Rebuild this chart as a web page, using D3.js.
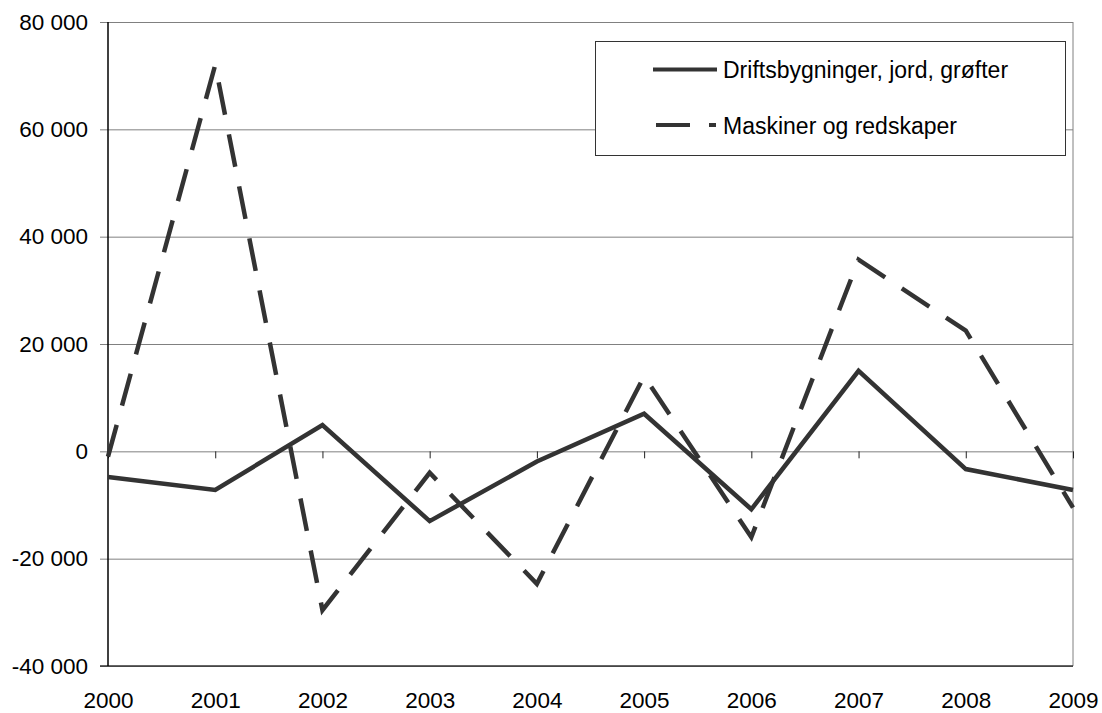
<!DOCTYPE html>
<html>
<head>
<meta charset="utf-8">
<script src="https://cdn.jsdelivr.net/npm/d3@7"></script>
<style>
  body { margin: 0; background: #fff; }
  svg { font-family: "Liberation Sans", Arial, sans-serif; }
  .grid line { stroke: #808080; stroke-width: 1; }
  .grid path { display: none; }
</style>
</head>
<body>
<svg width="1102" height="713"></svg>
<script>
// data
const years = ["2000", "2001", "2002", "2003", "2004", "2005", "2006", "2007", "2008", "2009"];
const drift = [-4800, -7200, 4900, -13000, -1900, 7000, -10800, 15000, -3300, -7200];
const maskiner = [-1000, 72000, -29600, -4000, -24700, 14000, -16000, 35700, 22500, -10500];
const yTicks = [-40000, -20000, 0, 20000, 40000, 60000, 80000];
const seriesNames = ["Driftsbygninger, jord, grøfter", "Maskiner og redskaper"];

const plotLeft = 108, plotRight = 1073, plotTop = 22, plotBottom = 666;
const lineColor = "#333333";

const svg = d3.select("svg");

const x = d3.scalePoint().domain(years).range([plotLeft, plotRight]);
const y = d3.scaleLinear().domain([-40000, 80000]).range([plotBottom, plotTop]);

const locale = d3.formatLocale({ decimal: ",", thousands: " ", grouping: [3], currency: ["", ""], minus: "-" });
const fmt = locale.format(",d");

// Grid lines - horizontal
svg.append("g")
  .attr("class", "grid")
  .attr("transform", `translate(${plotLeft}, 0)`)
  .call(d3.axisLeft(y).tickValues(yTicks).tickSize(-(plotRight - plotLeft)).tickFormat(""));

// y ticks + labels
const yAxis = svg.append("g")
  .attr("transform", `translate(${plotLeft}, 0)`)
  .call(d3.axisLeft(y).tickValues(yTicks).tickSize(8).tickPadding(12).tickFormat(fmt));
yAxis.select(".domain").remove();
yAxis.selectAll("line").attr("stroke", "#808080");
yAxis.selectAll("text")
  .attr("font-size", 22.5)
  .attr("font-family", "Liberation Sans, Arial, sans-serif")
  .attr("fill", "#000");

// right border
svg.append("line")
  .attr("x1", plotRight).attr("x2", plotRight)
  .attr("y1", plotTop).attr("y2", plotBottom)
  .attr("stroke", "#808080");

// bottom frame line
svg.append("line")
  .attr("x1", plotLeft - 8).attr("x2", plotRight)
  .attr("y1", y(-40000)).attr("y2", y(-40000))
  .attr("stroke", "#333").attr("stroke-width", 1.5);

// zero axis with ticks down
const zeroAxis = svg.append("g")
  .attr("transform", `translate(0, ${y(0)})`)
  .call(d3.axisBottom(x).tickSize(7).tickFormat(""));
zeroAxis.select(".domain").remove();
zeroAxis.selectAll("line").attr("stroke", "#222");

// left axis line
svg.append("line")
  .attr("x1", plotLeft).attr("x2", plotLeft)
  .attr("y1", plotTop).attr("y2", plotBottom)
  .attr("stroke", "#000").attr("stroke-width", 1.5);

// x labels
const xAxis = svg.append("g")
  .attr("transform", `translate(0, ${plotBottom})`)
  .call(d3.axisBottom(x).tickSize(0).tickPadding(0));
xAxis.select(".domain").remove();
xAxis.selectAll("text")
  .attr("dy", 0)
  .attr("y", 41.5)
  .attr("font-size", 22.5)
  .attr("font-family", "Liberation Sans, Arial, sans-serif")
  .attr("fill", "#000");

// lines
const line = d3.line()
  .x((d, i) => x(years[i]))
  .y(d => y(d));

svg.append("path")
  .datum(maskiner)
  .attr("d", line)
  .attr("fill", "none")
  .attr("stroke", lineColor)
  .attr("stroke-width", 4.5)
  .attr("stroke-dasharray", "33,20");

svg.append("path")
  .datum(drift)
  .attr("d", line)
  .attr("fill", "none")
  .attr("stroke", lineColor)
  .attr("stroke-width", 4.5)
  .attr("stroke-linejoin", "miter");

// Legend
const legend = svg.append("g");
legend.append("rect")
  .attr("x", 595.5).attr("y", 41.5)
  .attr("width", 470).attr("height", 114)
  .attr("fill", "#fff")
  .attr("stroke", "#333")
  .attr("stroke-width", 1);

const legendRows = [
  { name: seriesNames[0], y: 69.5, dash: null, x1: 653, x2: 717 },
  { name: seriesNames[1], y: 125, dash: "34,19", x1: 656, x2: 716 }
];
legendRows.forEach(r => {
  legend.append("line")
    .attr("x1", r.x1).attr("x2", r.x2)
    .attr("y1", r.y).attr("y2", r.y)
    .attr("stroke", lineColor)
    .attr("stroke-width", 4)
    .attr("stroke-dasharray", r.dash);
  legend.append("text")
    .attr("x", 723)
    .attr("y", r.y + 8.5)
    .attr("font-size", 23)
    .attr("fill", "#000")
    .text(r.name);
});
</script>
</body>
</html>
